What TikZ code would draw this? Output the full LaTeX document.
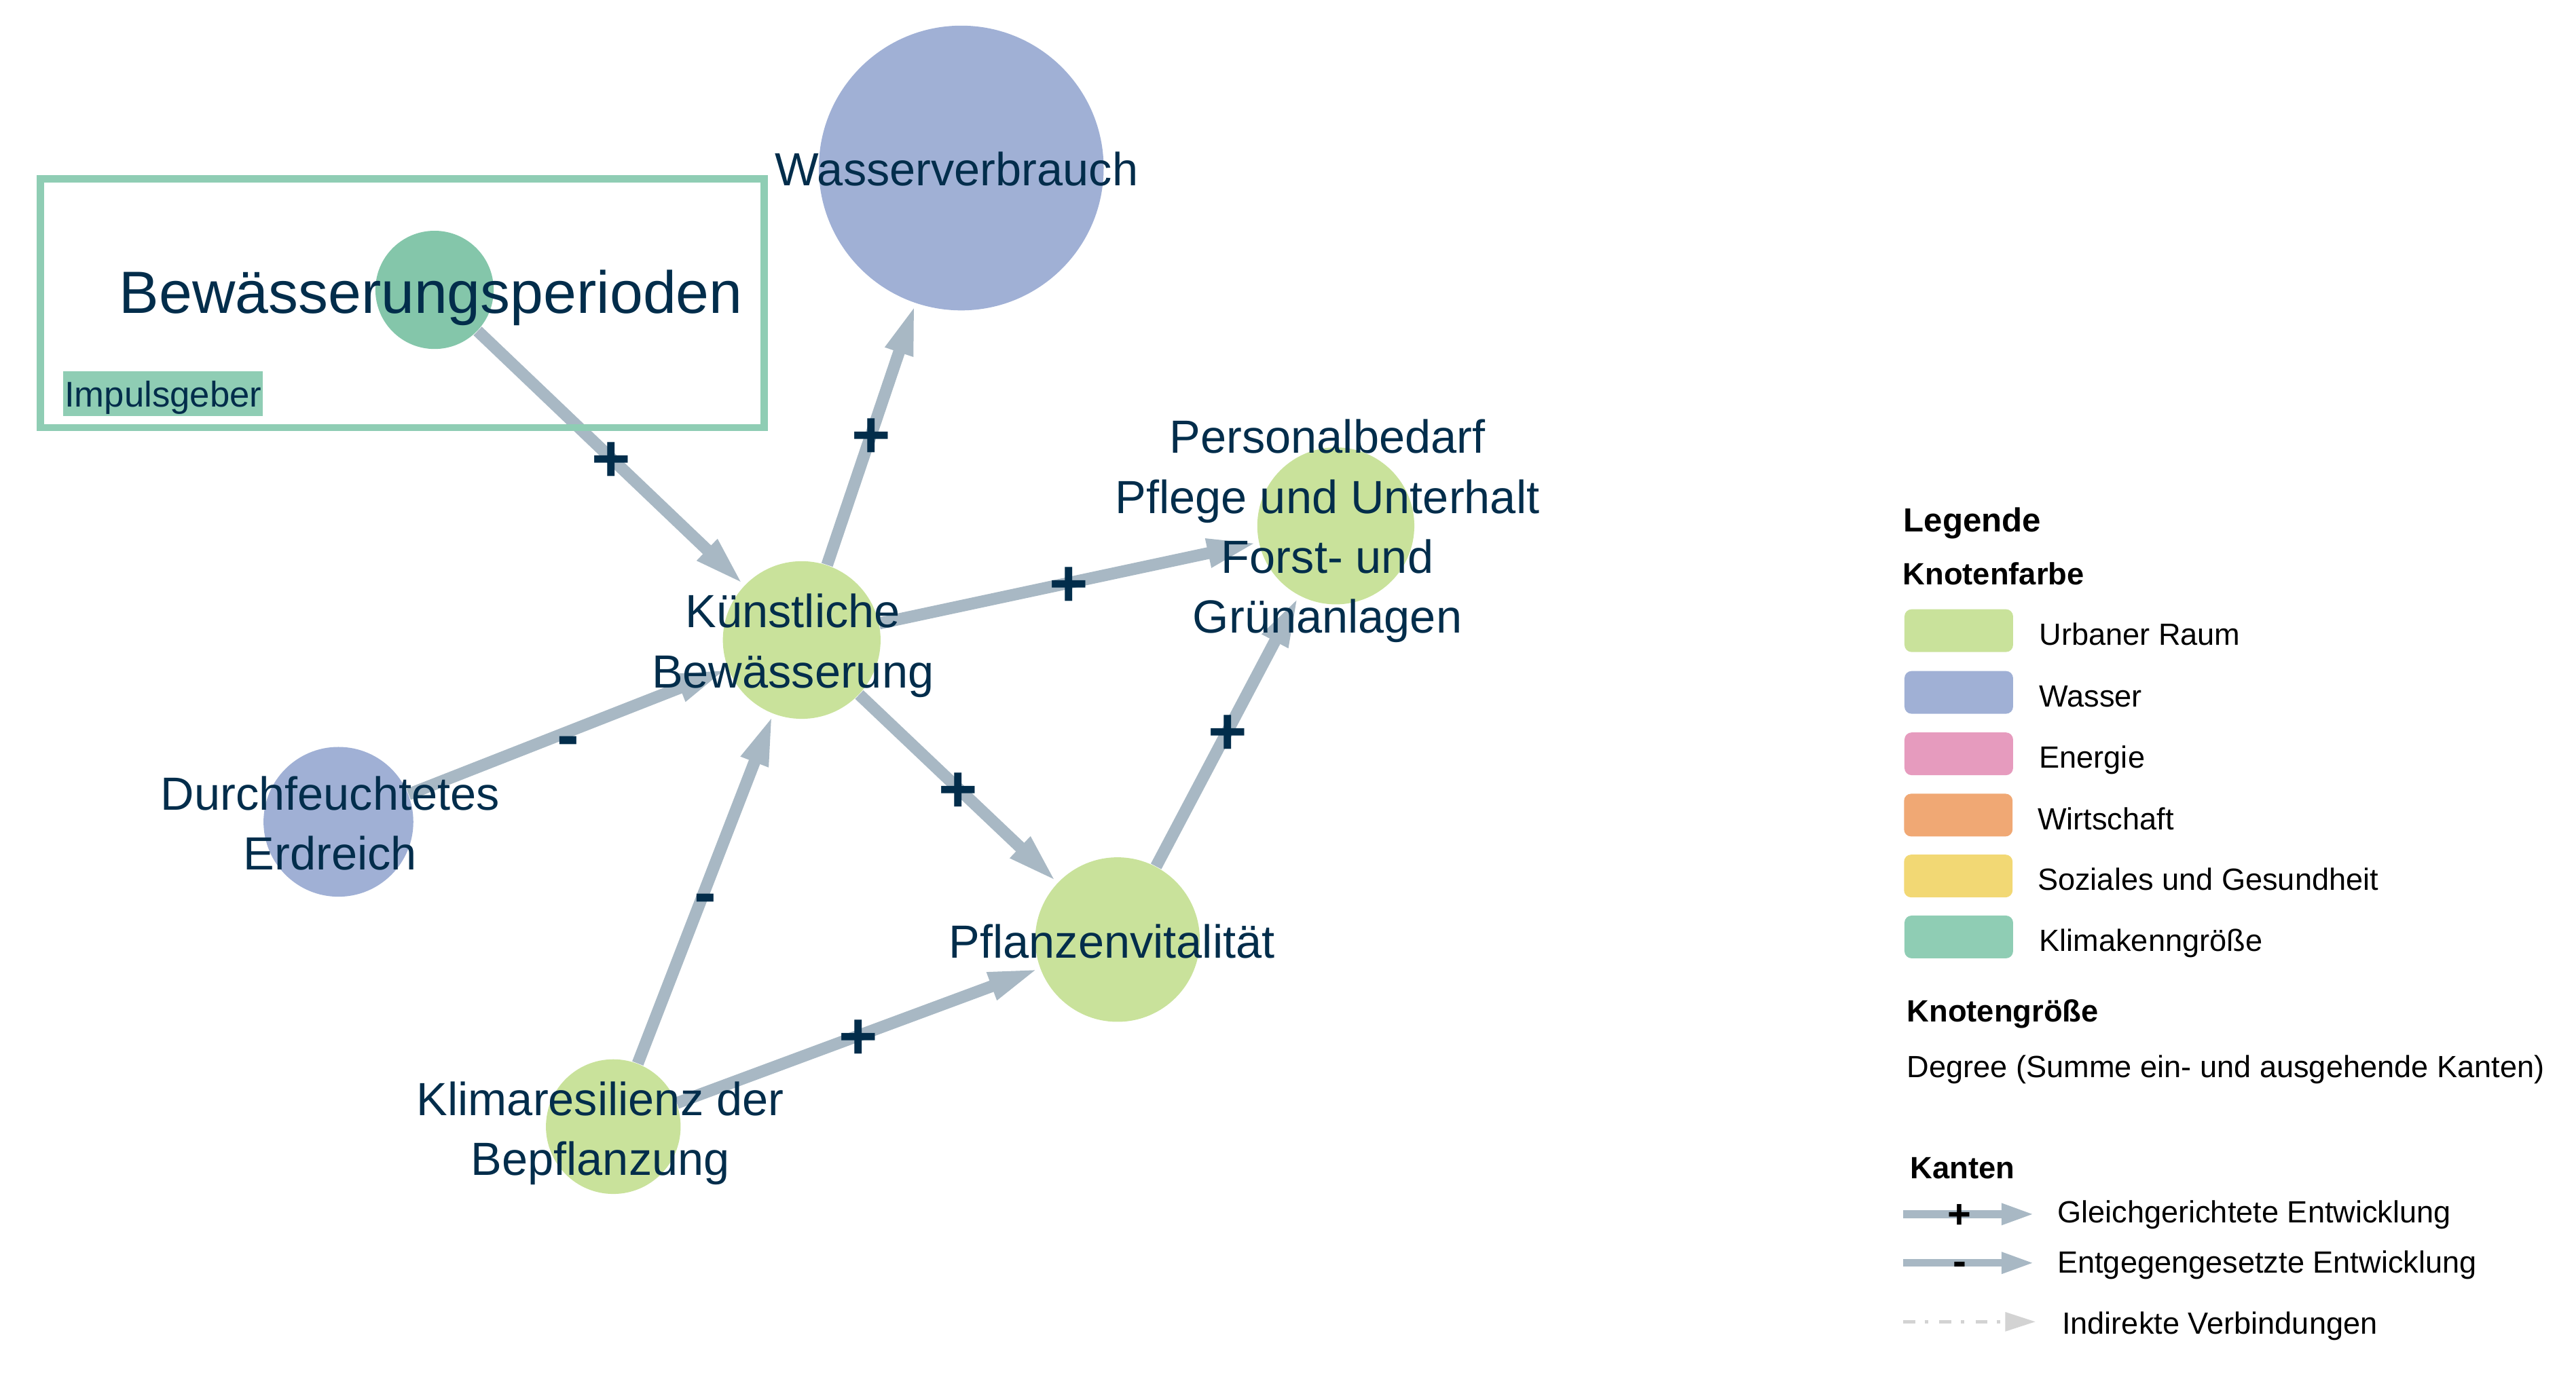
\documentclass[tikz,border=0pt]{standalone}
\usepackage{fontspec}
\setmainfont{Liberation Sans}
\usepackage{tikz}
\usetikzlibrary{arrows.meta}
\usetikzlibrary{positioning}

\definecolor{navy}{HTML}{022D4B}
\definecolor{kantengrau}{HTML}{A8B8C4}
\definecolor{urbangruen}{HTML}{C9E29B}
\definecolor{wasserblau}{HTML}{A0B0D5}
\definecolor{energierosa}{HTML}{E69BBE}
\definecolor{wirtschaftorange}{HTML}{F0A874}
\definecolor{sozialgelb}{HTML}{F2D874}
\definecolor{klimagruen}{HTML}{8FCDB4}
\definecolor{impulsgruen}{HTML}{84C6AA}
\definecolor{indirektgrau}{HTML}{D3D3D3}

\tikzset{
  knoten/.style={circle, inner sep=0pt, minimum size=#1},
  titel/.style={text=navy, align=center, inner sep=0pt, text depth=0pt,
    font=\fontsize{19.5}{25.1}\selectfont},
  wirkung/.style={draw=kantengrau, line width=5pt,
    -{Triangle[length=21.6pt, width=10.9pt]}},
  pluslabel/.style={text=navy, inner sep=0pt, text height=19.6pt, text depth=0pt,
    font=\fontsize{28}{28}\selectfont\bfseries},
  minuslabel/.style={pluslabel, yshift=-1.3pt},
  kasten/.style={rectangle, rounded corners=3pt, minimum width=1.6cm,
    minimum height=0.63cm, inner sep=0pt},
  legtext/.style={anchor=base west, inner sep=0pt, font=\fontsize{12.85}{15}\selectfont},
  legkopf/.style={legtext, font=\fontsize{12.9}{15}\selectfont\bfseries},
  legpfeil/.style={draw=kantengrau, line width=3.2pt,
    -{Triangle[length=13.8pt, width=8.3pt]}},
  legzeichen/.style={inner sep=0pt, text height=11.9pt, text depth=0pt,
    font=\fontsize{17}{17}\selectfont\bfseries},
}

\begin{document}
\begin{tikzpicture}[x=0.024196cm, y=-0.024196cm]
    \useasboundingbox (0,0) rectangle (1568,845);

    % Knoten
    \node[knoten=4.196cm, fill=wasserblau] at (585.1,102.3) (wv) {};
    \node[knoten=1.742cm, fill=impulsgruen] at (264.5,176.5) (bp) {};
    \node[knoten=2.323cm, fill=urbangruen] at (488,389.7) (kb) {};
    \node[knoten=2.313cm, fill=urbangruen] at (813.1,320.2) (pb) {};
    \node[knoten=2.207cm, fill=wasserblau] at (206,500.4) (de) {};
    \node[knoten=2.424cm, fill=urbangruen] at (680.2,572.1) (pv) {};
    \node[knoten=1.984cm, fill=urbangruen] at (373.3,686) (kr) {};

    % Kanten
    \draw[wirkung] (bp) -- node[pluslabel]{+} (kb);
    \draw[wirkung] (kb) -- node[pluslabel]{+} (wv);
    \draw[wirkung] (kb) -- node[pluslabel]{+} (pb);
    \draw[wirkung] (de) -- node[minuslabel]{-} (kb);
    \draw[wirkung] (kb) -- node[pluslabel]{+} (pv);
    \draw[wirkung] (kr) -- node[minuslabel]{-} (kb);
    \draw[wirkung] (kr) -- node[pluslabel]{+} (pv);
    \draw[wirkung] (pv) -- node[pluslabel]{+} (pb);

    % Impulsgeber
    \draw[klimagruen, line width=3pt] (24.5,108.8) rectangle (465.2,260.3);
    \node[fill=klimagruen, text=navy, anchor=base west, inner xsep=0.55pt, inner ysep=0pt,
      text height=15pt, text depth=4pt, font=\fontsize{15}{18}\selectfont]
      at (38.3,247.7) (impuls) {Impulsgeber};

    % Beschriftungen
    \node[titel] at (582.3,102.9) (wv-t) {Wasserverbrauch};
    \node[titel, font=\fontsize{25}{30}\selectfont] at (262.3,177.6) (bp-t) {Bewässerungsperioden};
    \node[titel] at (482.6,390.2) (kb-t) {Künstliche\\Bewässerung};
    \node[titel] at (808,320.4) (pb-t) {Personalbedarf\\Pflege und Unterhalt\\Forst- und\\Grünanlagen};
    \node[titel] at (201,501.1) (de-t) {Durchfeuchtetes\\Erdreich};
    \node[titel] at (676.8,573.1) (pv-t) {Pflanzenvitalität};
    \node[titel] at (365.4,687) (kr-t) {Klimaresilienz der\\Bepflanzung};

    % Legende
    \node[legkopf, font=\fontsize{14}{16}\selectfont\bfseries] at (1158.5,323.7) (legende) {Legende};
    \node[legkopf] at (1158,356.2) (farbe) {Knotenfarbe};

    \node[kasten, fill=urbangruen] at (1192.3,384) (k1) {};
    \node[legtext] at (1241,393) (t1) {Urbaner Raum};
    \node[kasten, fill=wasserblau] at (1192.3,421.6) (k2) {};
    \node[legtext] at (1241,430.5) (t2) {Wasser};
    \node[kasten, fill=energierosa] at (1192.3,459) (k3) {};
    \node[legtext] at (1241,467.8) (t3) {Energie};
    \node[kasten, fill=wirtschaftorange] at (1192,496.3) (k4) {};
    \node[legtext] at (1240,505.1) (t4) {Wirtschaft};
    \node[kasten, fill=sozialgelb] at (1192,533.4) (k5) {};
    \node[legtext] at (1240,542.2) (t5) {Soziales und Gesundheit};
    \node[kasten, fill=klimagruen] at (1192.3,570.5) (k6) {};
    \node[legtext] at (1241,579.3) (t6) {Klimakenngröße};

    \node[legkopf] at (1160.5,622) (groesse) {Knotengröße};
    \node[legtext] at (1160.5,656) (degree) {Degree (Summe ein- und ausgehende Kanten)};

    \node[legkopf] at (1162.6,717.5) (kanten) {Kanten};

    \coordinate (g-a) at (1158.5,739.3);
    \coordinate (g-b) at (1238.3,739.3);
    \draw[legpfeil] (g-a) -- node[legzeichen, pos=0.43]{+} (g-b);
    \node[legtext] at (1252,744.6) (gleich) {Gleichgerichtete Entwicklung};

    \coordinate (e-a) at (1158.5,769);
    \coordinate (e-b) at (1238.3,769);
    \draw[legpfeil] (e-a) -- node[legzeichen, pos=0.43, yshift=1pt]{-} (e-b);
    \node[legtext] at (1252,775) (entgegen) {Entgegengesetzte Entwicklung};

    \coordinate (i-a) at (1158.6,804.8);
    \coordinate (i-b) at (1239,804.8);
    \draw[indirektgrau, line width=1.4pt, dash pattern=on 5.1pt off 3.8pt on 1.5pt off 4.7pt,
      -{Triangle[length=12.7pt, width=7.8pt]}] (i-a) -- (i-b);
    \node[legtext] at (1254.9,812.1) (indirekt) {Indirekte Verbindungen};
\end{tikzpicture}
\end{document}
